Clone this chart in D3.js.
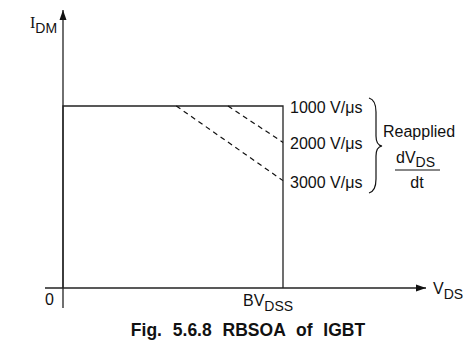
<!DOCTYPE html>
<html>
<head>
<meta charset="utf-8">
<script src="https://cdn.jsdelivr.net/npm/d3@7"></script>
<style>
  html, body { margin: 0; padding: 0; background: #fff; }
  text { font-family: "Liberation Sans", Arial, sans-serif; fill: #111; }
</style>
</head>
<body>
<div id="chart"></div>
<script>
// RBSOA of IGBT: rectangular safe area, clipped by reapplied dV/dt lines.
// Values normalised: V in units of BVDSS, I in units of IDM.

const soaV = [0, 0, 1, 1];
const soaI = [0, 1, 1, 0];

const dvdtLabels = ["1000 V/\u03bcs", "2000 V/\u03bcs", "3000 V/\u03bcs"];
const dvdtLabelI = [1.0, 0.80, 0.59];
// dashed boundaries: start and end [V, I]
const dashStart = [[0.75, 1.0], [0.515, 1.0]];
const dashEnd   = [[1.0, 0.80], [1.0, 0.59]];

const W = 475, H = 353;
const x = d3.scaleLinear().domain([0, 1]).range([63, 283]);
const y = d3.scaleLinear().domain([0, 1]).range([288, 106]);

const svg = d3.select("#chart").append("svg")
  .attr("width", W).attr("height", H);

svg.append("defs").append("marker")
  .attr("id", "arr").attr("viewBox", "0 0 10 10")
  .attr("refX", 10).attr("refY", 5)
  .attr("markerWidth", 10).attr("markerHeight", 10)
  .attr("markerUnits", "userSpaceOnUse")
  .attr("orient", "auto")
  .append("path").attr("d", "M0,1.5 L10,5 L0,8.5 Z").attr("fill", "#111");

// Axes
svg.append("line")
  .attr("x1", x(0)).attr("x2", x(0))
  .attr("y1", 308).attr("y2", 10)
  .attr("stroke", "#222").attr("stroke-width", 1.3)
  .attr("marker-end", "url(#arr)");
svg.append("line")
  .attr("x1", 45).attr("x2", 426)
  .attr("y1", y(0)).attr("y2", y(0))
  .attr("stroke", "#222").attr("stroke-width", 1.3)
  .attr("marker-end", "url(#arr)");

// SOA rectangle
const line = d3.line().x(d => x(d[0])).y(d => y(d[1]));
svg.append("path")
  .attr("d", line(soaV.map((v, i) => [v, soaI[i]])))
  .attr("fill", "none").attr("stroke", "#222").attr("stroke-width", 1.3);

// Dashed dV/dt limits
dashStart.forEach((s, i) => {
  svg.append("line")
    .attr("x1", x(s[0])).attr("y1", y(s[1]))
    .attr("x2", x(dashEnd[i][0])).attr("y2", y(dashEnd[i][1]))
    .attr("stroke", "#111").attr("stroke-width", 1.2)
    .attr("stroke-dasharray", "5,4");
});

// Right-side labels
dvdtLabels.forEach((t, i) => {
  svg.append("text")
    .attr("x", x(1) + 7).attr("y", y(dvdtLabelI[i]) + 7)
    .attr("font-size", "16px")
    .text(t);
});

// Brace
const bx = 369, bt = 98, bb = 193, bm = 146;
svg.append("path")
  .attr("d", `M${bx},${bt} Q${bx + 7},${bt + 2} ${bx + 7},${bt + 14}
    L${bx + 7},${bm - 10} Q${bx + 7},${bm - 1} ${bx + 13},${bm}
    Q${bx + 7},${bm + 1} ${bx + 7},${bm + 10}
    L${bx + 7},${bb - 14} Q${bx + 7},${bb - 2} ${bx},${bb}`)
  .attr("fill", "none").attr("stroke", "#111").attr("stroke-width", 1.2);

svg.append("text").attr("x", 383).attr("y", 137)
  .attr("font-size", "16px").text("Reapplied");

const frac = svg.append("text").attr("x", 396).attr("y", 163).attr("font-size", "16px");
frac.append("tspan").text("dV");
frac.append("tspan").attr("dy", 4).attr("font-size", "14px").text("DS");
svg.append("line")
  .attr("x1", 395).attr("x2", 440).attr("y1", 170).attr("y2", 170)
  .attr("stroke", "#111").attr("stroke-width", 1);
svg.append("text").attr("x", 417).attr("y", 188)
  .attr("text-anchor", "middle").attr("font-size", "16px").text("dt");

// Axis labels
const il = svg.append("text").attr("x", 30).attr("y", 28).attr("font-size", "16px");
il.append("tspan").attr("font-family", "Liberation Serif, serif").text("I");
il.append("tspan").attr("dy", 5).attr("font-size", "14px").text("DM");

const vl = svg.append("text").attr("x", 433).attr("y", 294).attr("font-size", "16px");
vl.append("tspan").text("V");
vl.append("tspan").attr("dy", 5).attr("font-size", "14px").text("DS");

svg.append("text").attr("x", 45).attr("y", 305).attr("font-size", "16px").text("0");

const bl = svg.append("text").attr("x", 243).attr("y", 306).attr("font-size", "16px");
bl.append("tspan").text("BV");
bl.append("tspan").attr("dy", 5).attr("font-size", "14px").text("DSS");

// Caption
svg.append("text")
  .attr("x", 248).attr("y", 336)
  .attr("text-anchor", "middle")
  .attr("font-size", "17.5px").attr("font-weight", "bold")
  .attr("word-spacing", "6px")
  .text("Fig. 5.6.8 RBSOA of IGBT");
</script>
</body>
</html>
